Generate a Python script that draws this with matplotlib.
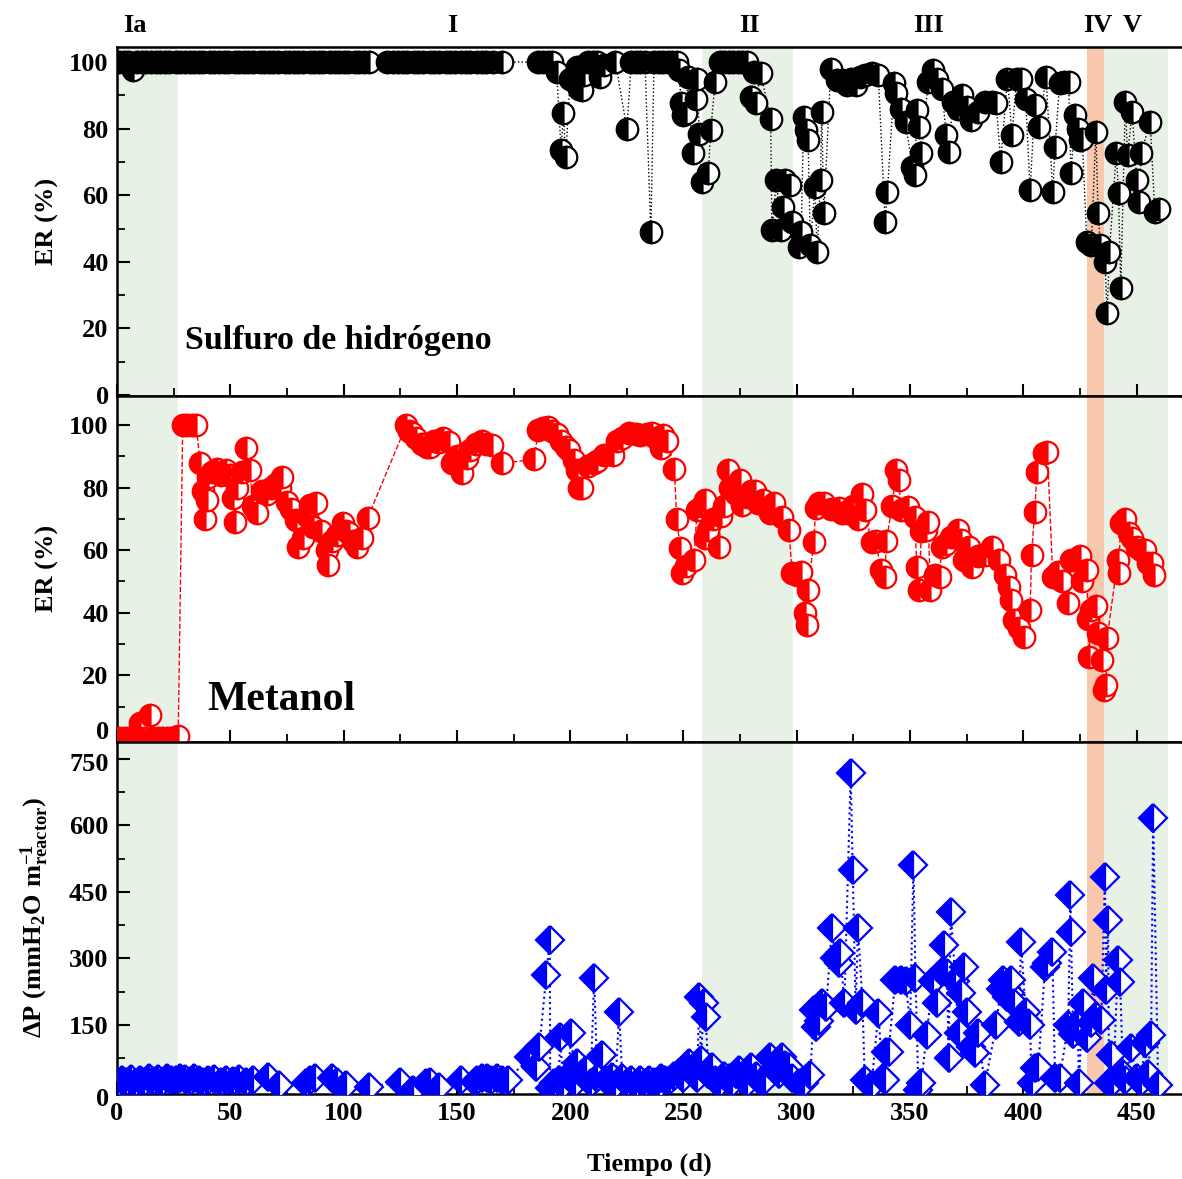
import matplotlib
matplotlib.use("Agg")
import matplotlib.pyplot as plt
from matplotlib.ticker import MultipleLocator, FixedLocator, FixedFormatter
import matplotlib.transforms as mtrans

# ---------------- data ----------------
h2s_day = [1, 3, 5, 7, 9, 11, 13, 15, 17, 19, 21, 23, 26, 28, 30, 32, 34, 36, 38, 41,
           43, 45, 47, 49, 52, 54, 56, 58, 60, 63, 65, 67, 69, 71, 74, 76, 78, 80, 82, 85,
           87, 89, 91, 94, 96, 98, 100, 102, 105, 107, 109, 111, 119, 122, 124, 126, 128, 131, 133, 135,
           138, 140, 142, 145, 147, 149, 152, 154, 156, 159, 161, 163, 166, 170, 186, 188, 190, 192, 194, 196,
           197, 198, 200, 201, 203, 204, 205, 206, 208, 210, 212, 213, 215, 220, 225, 227, 229, 231, 233, 235.6,
           237, 239, 241, 243, 245, 247, 248, 249, 250, 251, 252, 254, 255.5, 256, 257, 258, 261, 262, 264, 266,
           268, 270, 272, 274, 276, 278, 280, 281, 282, 284, 288.5, 289, 291, 293, 294, 295, 297, 298, 301, 302,
           303, 304, 305, 306, 308, 309, 310.5, 311, 312, 315, 317.6, 320, 322, 324, 326, 328, 330, 333, 336, 339,
           340, 343, 344, 346, 348, 351, 352, 353, 354, 355, 358, 360, 362, 364, 366, 367, 369, 371, 373, 375,
           377, 380, 383, 386, 388, 390, 393, 395, 397, 399, 401, 403, 405, 407, 410, 413, 414, 416, 418, 420,
           421, 423, 424, 425, 426, 428, 430, 432, 433, 434, 436, 437, 438, 441, 442, 443, 445, 446, 448, 450,
           451, 452, 456, 458, 460]
h2s_er = [100, 100, 100, 97.5, 100, 100, 100, 100, 100, 100, 100, 100, 100, 100, 100, 100, 100, 100, 100, 100,
          100, 100, 100, 100, 100, 100, 100, 100, 100, 100, 100, 100, 100, 100, 100, 100, 100, 100, 100, 100,
          100, 100, 100, 100, 100, 100, 100, 100, 100, 100, 100, 100, 100, 100, 100, 100, 100, 100, 100, 100,
          100, 100, 100, 100, 100, 100, 100, 100, 100, 100, 100, 100, 100, 100, 100, 100, 100, 100, 97, 73.6,
          84.7, 71.5, 95, 94.6, 98.5, 92, 91.6, 96, 100, 100, 100, 95.5, 99, 100, 80, 100, 100, 100, 100, 49,
          100, 100, 100, 100, 100, 100, 97.6, 87.7, 84, 84.7, 95.5, 72.7, 89, 95, 78.5, 64, 66.6, 79.6, 94, 100,
          100, 100, 100, 100, 100, 100, 89.5, 97, 87.7, 96.7, 83, 49.5, 64.6, 49.5, 56.5, 64.5, 63, 52, 44.5, 49,
          83.5, 79.6, 76.5, 45, 62.5, 43, 64.6, 85, 54.6, 98, 94.6, 94.6, 93, 95, 93, 95.5, 96, 96.7, 96, 52,
          61, 93.7, 90.7, 86, 82, 68.5, 66, 85.6, 80.5, 72.6, 94, 97.6, 95, 92, 78, 73, 88, 86, 90, 86.5,
          82.6, 85, 88, 88, 87.7, 70, 95, 78, 95, 95, 89, 61.6, 87, 80.5, 95.5, 61, 74.5, 93.7, 94, 94,
          66.7, 84, 80, 76.5, 77, 46, 45, 79, 54.6, 45, 40, 24.6, 43, 72.7, 60.7, 32, 88, 72, 85, 64.6,
          58, 72.7, 82, 55, 56]

met_day = [1, 3, 5, 7, 9, 10, 12, 14.5, 16, 18, 20, 22, 24, 27, 29, 31, 33, 35, 36.6, 38,
           38.8, 39.6, 40, 42, 44, 46, 48, 50, 51, 52, 53, 55, 57, 58.6, 60, 62, 64, 66, 68, 70,
           72, 73, 75, 77, 79, 80, 82, 84, 85, 86.3, 88, 90, 92.5, 93, 95, 97, 99.6, 101, 102.6, 104,
           106, 108, 110.6, 127.7, 129, 130.4, 132, 134.8, 137, 138, 140, 142, 144, 146.7, 148, 150, 152.4, 154.6, 156, 158.6,
           161, 163, 165.6, 170, 184, 186, 188, 190, 192, 194, 196, 198, 199.5, 201.8, 203, 204, 205, 208, 210.6, 212,
           215, 219, 220.7, 223, 226, 229, 231, 234, 236, 238, 240, 241, 242.7, 246, 247, 248.6, 249.5, 251, 254.6, 256,
           258, 259.5, 259.6, 261, 263, 265.7, 266.6, 268, 269.6, 270.5, 273, 275, 276, 278, 280, 281.5, 283, 285, 288, 290,
           293.4, 296.5, 298, 300, 301.7, 303.5, 304.4, 305, 307.5, 308.4, 310, 312, 315, 318.5, 320, 322, 325, 327, 328.6, 330,
           333, 335, 337, 338.8, 339.6, 342, 344, 345, 346, 349, 352, 353, 354, 355, 357, 358, 359, 361, 363, 364,
           366, 368, 371, 372.7, 374, 375.8, 377.5, 380, 383, 386, 389.4, 392, 393.8, 394.4, 396, 398, 400.4, 403, 403.6, 405,
           406, 409, 410.6, 413, 415.4, 417, 419.8, 421, 423, 425, 426, 428, 428.5, 429, 430, 432, 433, 434.7, 435.5, 436.5,
           437, 441.7, 442, 443, 445, 446.6, 448, 450, 452, 453.5, 455, 456.8, 457.6]
met_er = [0, 0, 0, 0, 0, 4.8, 0, 7.3, 0, 0, 0, 0, 0, 0.5, 100, 100, 100, 100, 88, 79,
          70, 76, 83.5, 85, 86, 84, 85.5, 84, 76.7, 69, 80, 85, 92.6, 85.6, 74, 72, 79, 78, 80, 81,
          80, 83.4, 75.4, 73, 69.6, 61, 64, 71, 74.4, 67.4, 75, 66, 60, 55.3, 63, 65, 68.7, 66, 65.5, 63,
          61, 64, 70.3, 100, 98, 97.4, 96, 94, 93, 93, 95, 94.6, 96, 94.6, 88, 90, 84.7, 89.5, 92, 94,
          95, 94, 93.6, 87.8, 89, 98.4, 99, 99.5, 98, 97, 95, 93, 92, 88.8, 85.6, 80, 80, 87, 88, 88.5,
          90.4, 90.4, 95, 96, 97.4, 97, 96.8, 97, 97.4, 96, 92.6, 96.8, 95, 86, 70, 60.7, 52.7, 55, 57, 72.8,
          74, 64, 76, 66.4, 70, 61, 71, 74, 85.6, 80, 78, 82.4, 74.4, 77, 79, 79, 75, 76, 72, 75,
          70.6, 66.4, 52.7, 52, 53, 40, 36, 47.3, 62.6, 73.5, 75, 75, 73, 73.5, 72, 72, 74, 70, 78, 72.8,
          62.6, 63, 53.7, 51.4, 63, 74, 85.6, 82.4, 72.8, 73.8, 70.6, 54.6, 47.3, 66, 66.4, 69, 47.3, 52, 51.4, 61,
          62, 64.2, 66.4, 63.3, 57, 61, 54.6, 58, 58.5, 61, 56.9, 52, 48.2, 44, 37.7, 35, 32.3, 41, 58.5, 72.2,
          85, 91, 91.4, 51.4, 53, 50, 43, 57, 57, 58, 50, 53.7, 38, 26, 41, 42, 33.5, 25, 15.3, 17,
          32, 57, 52.7, 68.7, 70, 65.5, 64, 61, 60, 60, 56, 55.9, 52]

dp_day = [0.5, 2, 4, 6, 8, 10, 12, 14, 16, 18, 20, 22, 24, 26, 28, 30, 32, 34, 36, 38,
          40, 43, 46, 48, 51, 54, 57, 60, 66.5, 71.5, 83.3, 85, 87.5, 95, 97, 101, 111, 124.7, 130.5, 136.5,
          138, 142, 151.6, 158, 159, 161, 163.5, 165, 167.6, 170, 172.7, 182, 185, 186.4, 189.5, 191, 191.2, 193, 195, 195.5,
          197, 199, 200.5, 202, 203, 205, 207, 209, 210.6, 212, 214, 216, 218.5, 220, 221.6, 223, 225, 227, 229, 231,
          233, 234.8, 237, 239, 240, 242, 244, 246, 248, 250, 252.4, 254, 256, 257, 257.7, 259, 259.8, 261, 262.6, 264,
          266, 268, 270, 271.4, 273, 274.5, 276, 278, 280, 282, 284, 286, 288.4, 290, 292, 293.4, 295, 296.5, 298, 301,
          303, 306, 307.5, 308.4, 310, 311, 313, 315.5, 317, 318.5, 319.3, 321, 323.8, 324.7, 326, 327, 329, 330, 333, 336,
          338, 339, 339.6, 340.5, 343.5, 345.8, 348, 350, 351.5, 352.4, 353.7, 355, 357.3, 360, 361.7, 364, 364.8, 366.3, 367, 368,
          370, 371.4, 372.7, 373.6, 375, 377, 378.8, 380.2, 383, 388, 390, 391, 393, 394.2, 394.7, 396, 398, 399, 401, 402.2,
          403, 403.6, 405, 406.6, 409.6, 410.6, 412.8, 414, 416, 419.8, 420.8, 421, 422, 424, 424.5, 426.3, 428, 430, 430.8, 432,
          434.4, 436, 436.5, 437.4, 437.8, 438.8, 439.7, 441.8, 442.7, 444, 445, 447.6, 450, 452, 453.7, 455, 456.4, 457.3, 459.5]
dp_val = [20, 25, 22, 28, 20, 26, 22, 30, 24, 28, 22, 30, 26, 25, 30, 28, 24, 30, 26, 22,
          25, 28, 22, 26, 24, 28, 22, 25, 32, 15, 19, 25, 30, 30, 22, 15, 10, 21, 3, 19,
          22, 10, 26, 22, 26, 30, 30, 27, 30, 26, 26, 78, 55, 100, 263, 342, 8, 20, 26, 123,
          15, 35, 132, 20, 64, 40, 48, 20, 256, 30, 82, 25, 33, 15, 179, 30, 20, 26, 18, 25,
          20, 26, 22, 15, 30, 26, 25, 35, 41, 30, 64, 45, 30, 213, 71, 199, 168, 40, 55, 26,
          20, 35, 30, 19, 40, 48, 30, 20, 55, 35, 22, 26, 78, 50, 40, 78, 60, 55, 30, 19,
          20, 37, 184, 145, 160, 199, 190, 369, 300, 290, 312, 200, 718, 500, 184, 369, 200, 26, 15, 177,
          30, 26, 89, 89, 252, 252, 250, 150, 511, 256, 3, 20, 127, 250, 199, 270, 331, 267, 75, 405,
          250, 131, 222, 281, 180, 100, 87, 131, 14, 150, 230, 252, 213, 222, 252, 200, 157, 337, 180, 154,
          150, 19, 53, 55, 281, 290, 315, 30, 30, 150, 443, 360, 130, 154, 19, 199, 120, 154, 256, 170,
          161, 484, 229, 387, 19, 82, 21, 297, 247, 40, 26, 98, 30, 21, 109, 40, 127, 617, 14]

er_ticks = [0, 20, 40, 60, 80, 100]
dp_ticks = [0, 150, 300, 450, 600, 750]

phase_names = ["Ia", "I", "II", "III", "IV", "V"]
phase_pos = [8, 148, 279, 358, 433, 448]
green_spans = [(0, 27), (258, 298.5), (435.7, 464)]
orange_spans = [(428.3, 435.7)]

# ---------------- style ----------------
plt.rcParams['font.family'] = ['Liberation Serif', 'DejaVu Serif']
plt.rcParams['font.weight'] = 'bold'
plt.rcParams['mathtext.fontset'] = 'custom'
plt.rcParams['mathtext.rm'] = 'Liberation Serif:bold'
plt.rcParams['mathtext.bf'] = 'Liberation Serif:bold'
plt.rcParams['mathtext.it'] = 'Liberation Serif:bold'

GREEN = '#e8f1e6'
ORANGE = '#f8c8ad'
TICK_FS = 19


def half_markers(ax, xs, ys, color, marker, ms, ls, lw):
    """line behind, then each half-filled marker on its own so later points cover earlier ones"""
    ax.plot(xs, ys, ls=ls, color=color, lw=lw, zorder=2)
    for x, y in zip(xs, ys):
        ax.plot([x], [y], ls='none', marker=marker, ms=ms, mew=1.6, fillstyle='left',
                markerfacecolor=color, markerfacecoloralt='white',
                markeredgecolor=color, zorder=3)


def y_ticks(ax, ticks, minor, skip=(), nudge=None):
    """fixed y ticks; labels listed in skip are drawn by hand with a small vertical nudge"""
    ax.yaxis.set_major_locator(FixedLocator(ticks))
    ax.yaxis.set_major_formatter(FixedFormatter(['' if t in skip else str(t) for t in ticks]))
    ax.yaxis.set_minor_locator(MultipleLocator(minor))
    for t in skip:
        ax.annotate(str(t), xy=(0, t), xycoords=('axes fraction', 'data'),
                    xytext=(-6, nudge[t]), textcoords='offset points',
                    ha='right', va='center', fontsize=TICK_FS, fontweight='bold')


fig = plt.figure(figsize=(11.82, 11.79), dpi=100)
L, W = 0.099, 0.90
ax1 = fig.add_axes([L, 0.6641, W, 0.2960])
ax2 = fig.add_axes([L, 0.3707, W, 0.2935])
ax3 = fig.add_axes([L, 0.0721, W, 0.2986])

for ax in (ax1, ax2, ax3):
    for a, b in green_spans:
        ax.axvspan(a, b, color=GREEN, lw=0, zorder=0)
    for a, b in orange_spans:
        ax.axvspan(a, b, color=ORANGE, lw=0, zorder=0)
    ax.set_xlim(0, 469.5)
    ax.xaxis.set_major_locator(MultipleLocator(50))
    ax.xaxis.set_minor_locator(MultipleLocator(25))
    ax.tick_params(axis='both', which='major', direction='in', length=9, width=1.5,
                   labelsize=TICK_FS, pad=6, top=False, right=False)
    ax.tick_params(axis='both', which='minor', direction='in', length=6, width=1.3,
                   top=False, right=False)
    for s in ('left', 'bottom', 'top'):
        ax.spines[s].set_linewidth(1.8)
    ax.spines['right'].set_visible(False)

# H2S
half_markers(ax1, h2s_day, h2s_er, 'black', 'o', 15.5, ':', 1.0)
ax1.set_ylim(-0.3, 104.5)
y_ticks(ax1, er_ticks, 10)
ax1.tick_params(axis='x', which='both', labelbottom=False)
ax1.set_ylabel('ER (%)', fontsize=19, fontweight='bold')
ax1.yaxis.set_label_coords(-0.055, 0.5)
ax1.text(30, 16.5, 'Sulfuro de hidrógeno', fontsize=24.5, fontweight='bold', ha='left', va='center')

trans = mtrans.blended_transform_factory(ax1.transData, ax1.transAxes)
for name, x in zip(phase_names, phase_pos):
    ax1.text(x, 1.063, name, transform=trans, ha='center', va='center', fontsize=19, fontweight='bold')

# Methanol
half_markers(ax2, met_day, met_er, 'red', 'o', 15.5, '--', 1.0)
ax2.set_ylim(-1.3, 109.3)
y_ticks(ax2, er_ticks, 10, skip=(0,), nudge={0: 4})
ax2.tick_params(axis='x', which='both', labelbottom=False)
ax2.set_ylabel('ER (%)', fontsize=19, fontweight='bold')
ax2.yaxis.set_label_coords(-0.055, 0.5)
ax2.text(40, 12, 'Metanol', fontsize=30, fontweight='bold', ha='left', va='center')

# Pressure drop
half_markers(ax3, dp_day, dp_val, 'blue', 'D', 14, ':', 1.5)
ax3.set_ylim(-5.6, 788)
y_ticks(ax3, dp_ticks, 75, skip=(0, 750), nudge={0: -6, 750: -4})
ax3.set_ylabel(r'$\mathbf{\Delta P\ (mmH_{2}O\ m^{-1}_{reactor})}$', fontsize=19)
ax3.yaxis.set_label_coords(-0.062, 0.5)
ax3.set_xlabel('Tiempo (d)', fontsize=19, fontweight='bold')
ax3.xaxis.set_label_coords(0.5, -0.165)

fig.savefig('out.png', dpi=100)
